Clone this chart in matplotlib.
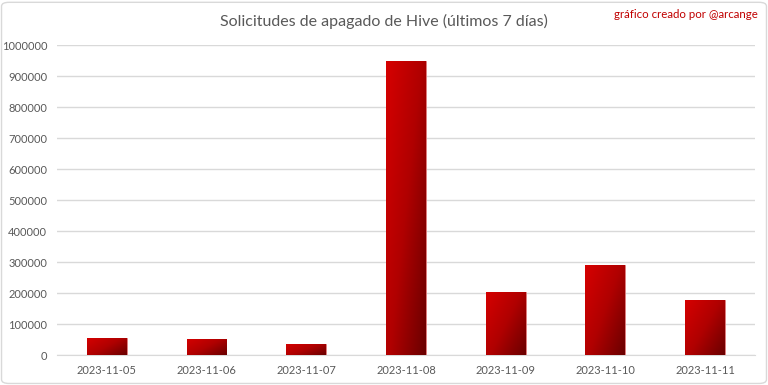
import numpy as np
import matplotlib.pyplot as plt
from matplotlib.colors import LinearSegmentedColormap
from matplotlib.patches import FancyBboxPatch

dates = ["2023-11-05", "2023-11-06", "2023-11-07", "2023-11-08",
         "2023-11-09", "2023-11-10", "2023-11-11"]
requests = [57000, 54000, 37000, 949000, 204000, 290000, 179000]
y_ticks = [0, 100000, 200000, 300000, 400000, 500000, 600000, 700000, 800000, 900000, 1000000]

plt.rcParams['font.family'] = ['Lato', 'DejaVu Sans']

fig = plt.figure(figsize=(7.68, 3.85), dpi=100)
fig.patch.set_facecolor("white")
ax = fig.add_axes([0.0742, 0.0771, 0.9088, 0.805])

x = np.arange(len(dates))
bars = ax.bar(x, requests, width=0.4, color="#B00000", edgecolor="#E08080", linewidth=0.6, zorder=2)

# diagonal red gradient (bright top-left -> dark bottom-right), clipped to every bar
cmap = LinearSegmentedColormap.from_list("redgrad", ["#D60000", "#B00000", "#6A0000"])
u = np.linspace(0, 1, 60)
v = np.linspace(0, 1, 200)
U, V = np.meshgrid(u, v)
grad = 0.55 * U + 0.45 * V
for b in bars:
    bx, by = b.get_x(), b.get_y()
    w, h = b.get_width(), b.get_height()
    im = ax.imshow(grad, cmap=cmap, extent=[bx, bx + w, by, by + h], origin="upper",
                   aspect="auto", zorder=3, interpolation="bilinear")
    im.set_clip_path(b)

ax.set_xlim(-0.5, len(dates) - 0.5)
ax.set_ylim(0, 1000000)
ax.set_yticks(y_ticks)
ax.set_yticklabels([str(t) for t in y_ticks])
ax.set_xticks(x)
ax.set_xticklabels(dates)
ax.tick_params(length=0, labelsize=8, colors="#595959")
ax.tick_params(axis="x", pad=7)
ax.tick_params(axis="y", pad=7)
ax.grid(axis="y", color="#D9D9D9", linewidth=1, zorder=0)
ax.set_axisbelow(True)
for s in ["top", "right", "left"]:
    ax.spines[s].set_visible(False)
ax.spines["bottom"].set_color("#D9D9D9")

fig.text(0.5, 0.943, "Solicitudes de apagado de Hive (últimos 7 días)", ha="center", va="center",
         fontsize=11.5, color="#595959")
fig.text(0.987, 0.963, "gráfico creado por @arcange", ha="right", va="center",
         fontsize=8.3, color="#C00000")

border = FancyBboxPatch((0.002, 0.004), 0.996, 0.99, boxstyle="round,pad=0,rounding_size=0.01",
                        transform=fig.transFigure, facecolor="none", edgecolor="#D9D9D9", linewidth=1)
fig.patches.append(border)

fig.savefig("out.png", dpi=100)
